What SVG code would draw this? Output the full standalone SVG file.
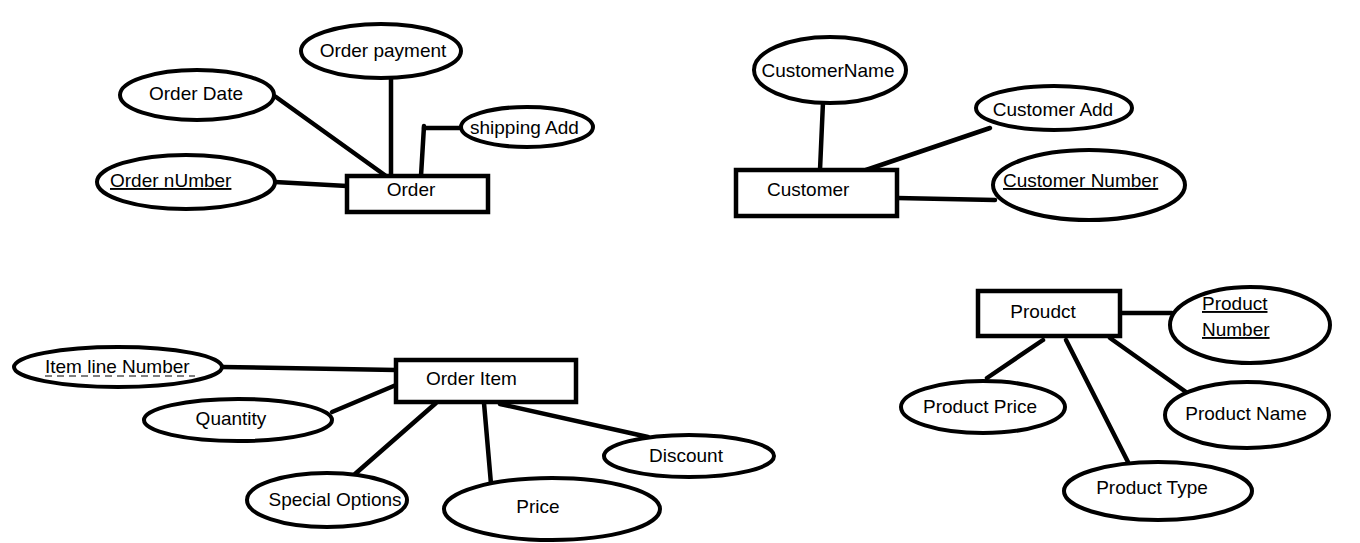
<svg xmlns="http://www.w3.org/2000/svg" width="1360" height="543" viewBox="0 0 1360 543">
<style>
.e{fill:#fff;stroke:#000;stroke-width:4}
.b{fill:#fff;stroke:#000;stroke-width:4.5}
.l{stroke:#000;stroke-width:4.5;fill:none;stroke-linecap:round}
text{font-family:"Liberation Sans",Arial,sans-serif;font-size:19px;fill:#000}
.m{text-anchor:middle}
.u{text-decoration:underline}
</style>
<rect width="1360" height="543" fill="#fff"/>
<g id="connectors">
<line class="l" x1="276" y1="97" x2="386" y2="176"/>
<line class="l" x1="391" y1="78" x2="391" y2="176"/>
<polyline class="l" points="461,128 424,128"/>
<line class="l" x1="424" y1="126" x2="421" y2="176"/>
<line class="l" x1="275" y1="182" x2="347" y2="186"/>
<line class="l" x1="823" y1="102" x2="820" y2="170"/>
<line class="l" x1="866" y1="170" x2="990" y2="128"/>
<line class="l" x1="897" y1="198" x2="995" y2="200"/>
<line class="l" x1="222" y1="367" x2="396" y2="370"/>
<line class="l" x1="332" y1="412" x2="396" y2="385"/>
<line class="l" x1="355" y1="474" x2="436" y2="403"/>
<line class="l" x1="484" y1="403" x2="491" y2="484"/>
<line class="l" x1="500" y1="404" x2="648" y2="437"/>
<line class="l" x1="1118" y1="313" x2="1172" y2="313"/>
<line class="l" x1="1043" y1="340" x2="987" y2="378"/>
<line class="l" x1="1066" y1="340" x2="1128" y2="462"/>
<line class="l" x1="1110" y1="338" x2="1186" y2="392"/>
</g>
<g id="order"><rect class="b" x="347" y="176" width="141" height="36"/><text class="m" x="411" y="196">Order</text></g>
<g id="order-date"><ellipse class="e" cx="197" cy="95" rx="77" ry="25"/><text class="m" x="196" y="100">Order Date</text></g>
<g id="order-payment"><ellipse class="e" cx="381" cy="51" rx="80" ry="27"/><text class="m" x="383" y="57">Order payment</text></g>
<g id="shipping-add"><ellipse class="e" cx="527" cy="127" rx="66" ry="20"/><text x="470" y="134">shipping Add</text></g>
<g id="order-number"><ellipse class="e" cx="186" cy="182" rx="89" ry="27"/><text class="u" x="110" y="187">Order nUmber</text></g>
<g id="customer"><rect class="b" x="736" y="170" width="161" height="46"/><text x="767" y="196">Customer</text></g>
<g id="customer-name"><ellipse class="e" cx="830" cy="70" rx="76" ry="33"/><text class="m" x="828" y="77">CustomerName</text></g>
<g id="customer-add"><ellipse class="e" cx="1054" cy="108" rx="78" ry="22"/><text class="m" x="1053" y="116">Customer Add</text></g>
<g id="customer-number"><ellipse class="e" cx="1089" cy="185" rx="96" ry="35"/><text class="u" x="1003" y="187">Customer Number</text></g>
<g id="order-item"><rect class="b" x="396" y="360" width="180" height="42"/><text x="426" y="385">Order Item</text></g>
<g id="item-line-number"><ellipse class="e" cx="118" cy="367" rx="104" ry="20"/><text x="45" y="373">Item line Number</text><line x1="45" y1="376" x2="195" y2="376" stroke="#000" stroke-width="1.2" stroke-dasharray="7,5"/></g>
<g id="quantity"><ellipse class="e" cx="238" cy="420" rx="94" ry="21"/><text class="m" x="231" y="425">Quantity</text></g>
<g id="special-options"><ellipse class="e" cx="327" cy="500" rx="80" ry="27"/><text class="m" x="335" y="506">Special Options</text></g>
<g id="price"><ellipse class="e" cx="552" cy="509" rx="108" ry="31"/><text class="m" x="538" y="513">Price</text></g>
<g id="discount"><ellipse class="e" cx="689" cy="456" rx="85" ry="21"/><text class="m" x="686" y="462">Discount</text></g>
<g id="product"><rect class="b" x="978" y="291" width="142" height="45"/><text class="m" x="1043" y="318">Proudct</text></g>
<g id="product-number"><ellipse class="e" cx="1250" cy="325" rx="80" ry="38"/><text class="u" x="1202" y="310">Product</text><text class="u" x="1202" y="336">Number</text></g>
<g id="product-price"><ellipse class="e" cx="983" cy="407" rx="82" ry="26"/><text class="m" x="980" y="413">Product Price</text></g>
<g id="product-name"><ellipse class="e" cx="1247" cy="415" rx="82" ry="33"/><text class="m" x="1246" y="420">Product Name</text></g>
<g id="product-type"><ellipse class="e" cx="1158" cy="491" rx="94" ry="29"/><text class="m" x="1152" y="494">Product Type</text></g>
</svg>
